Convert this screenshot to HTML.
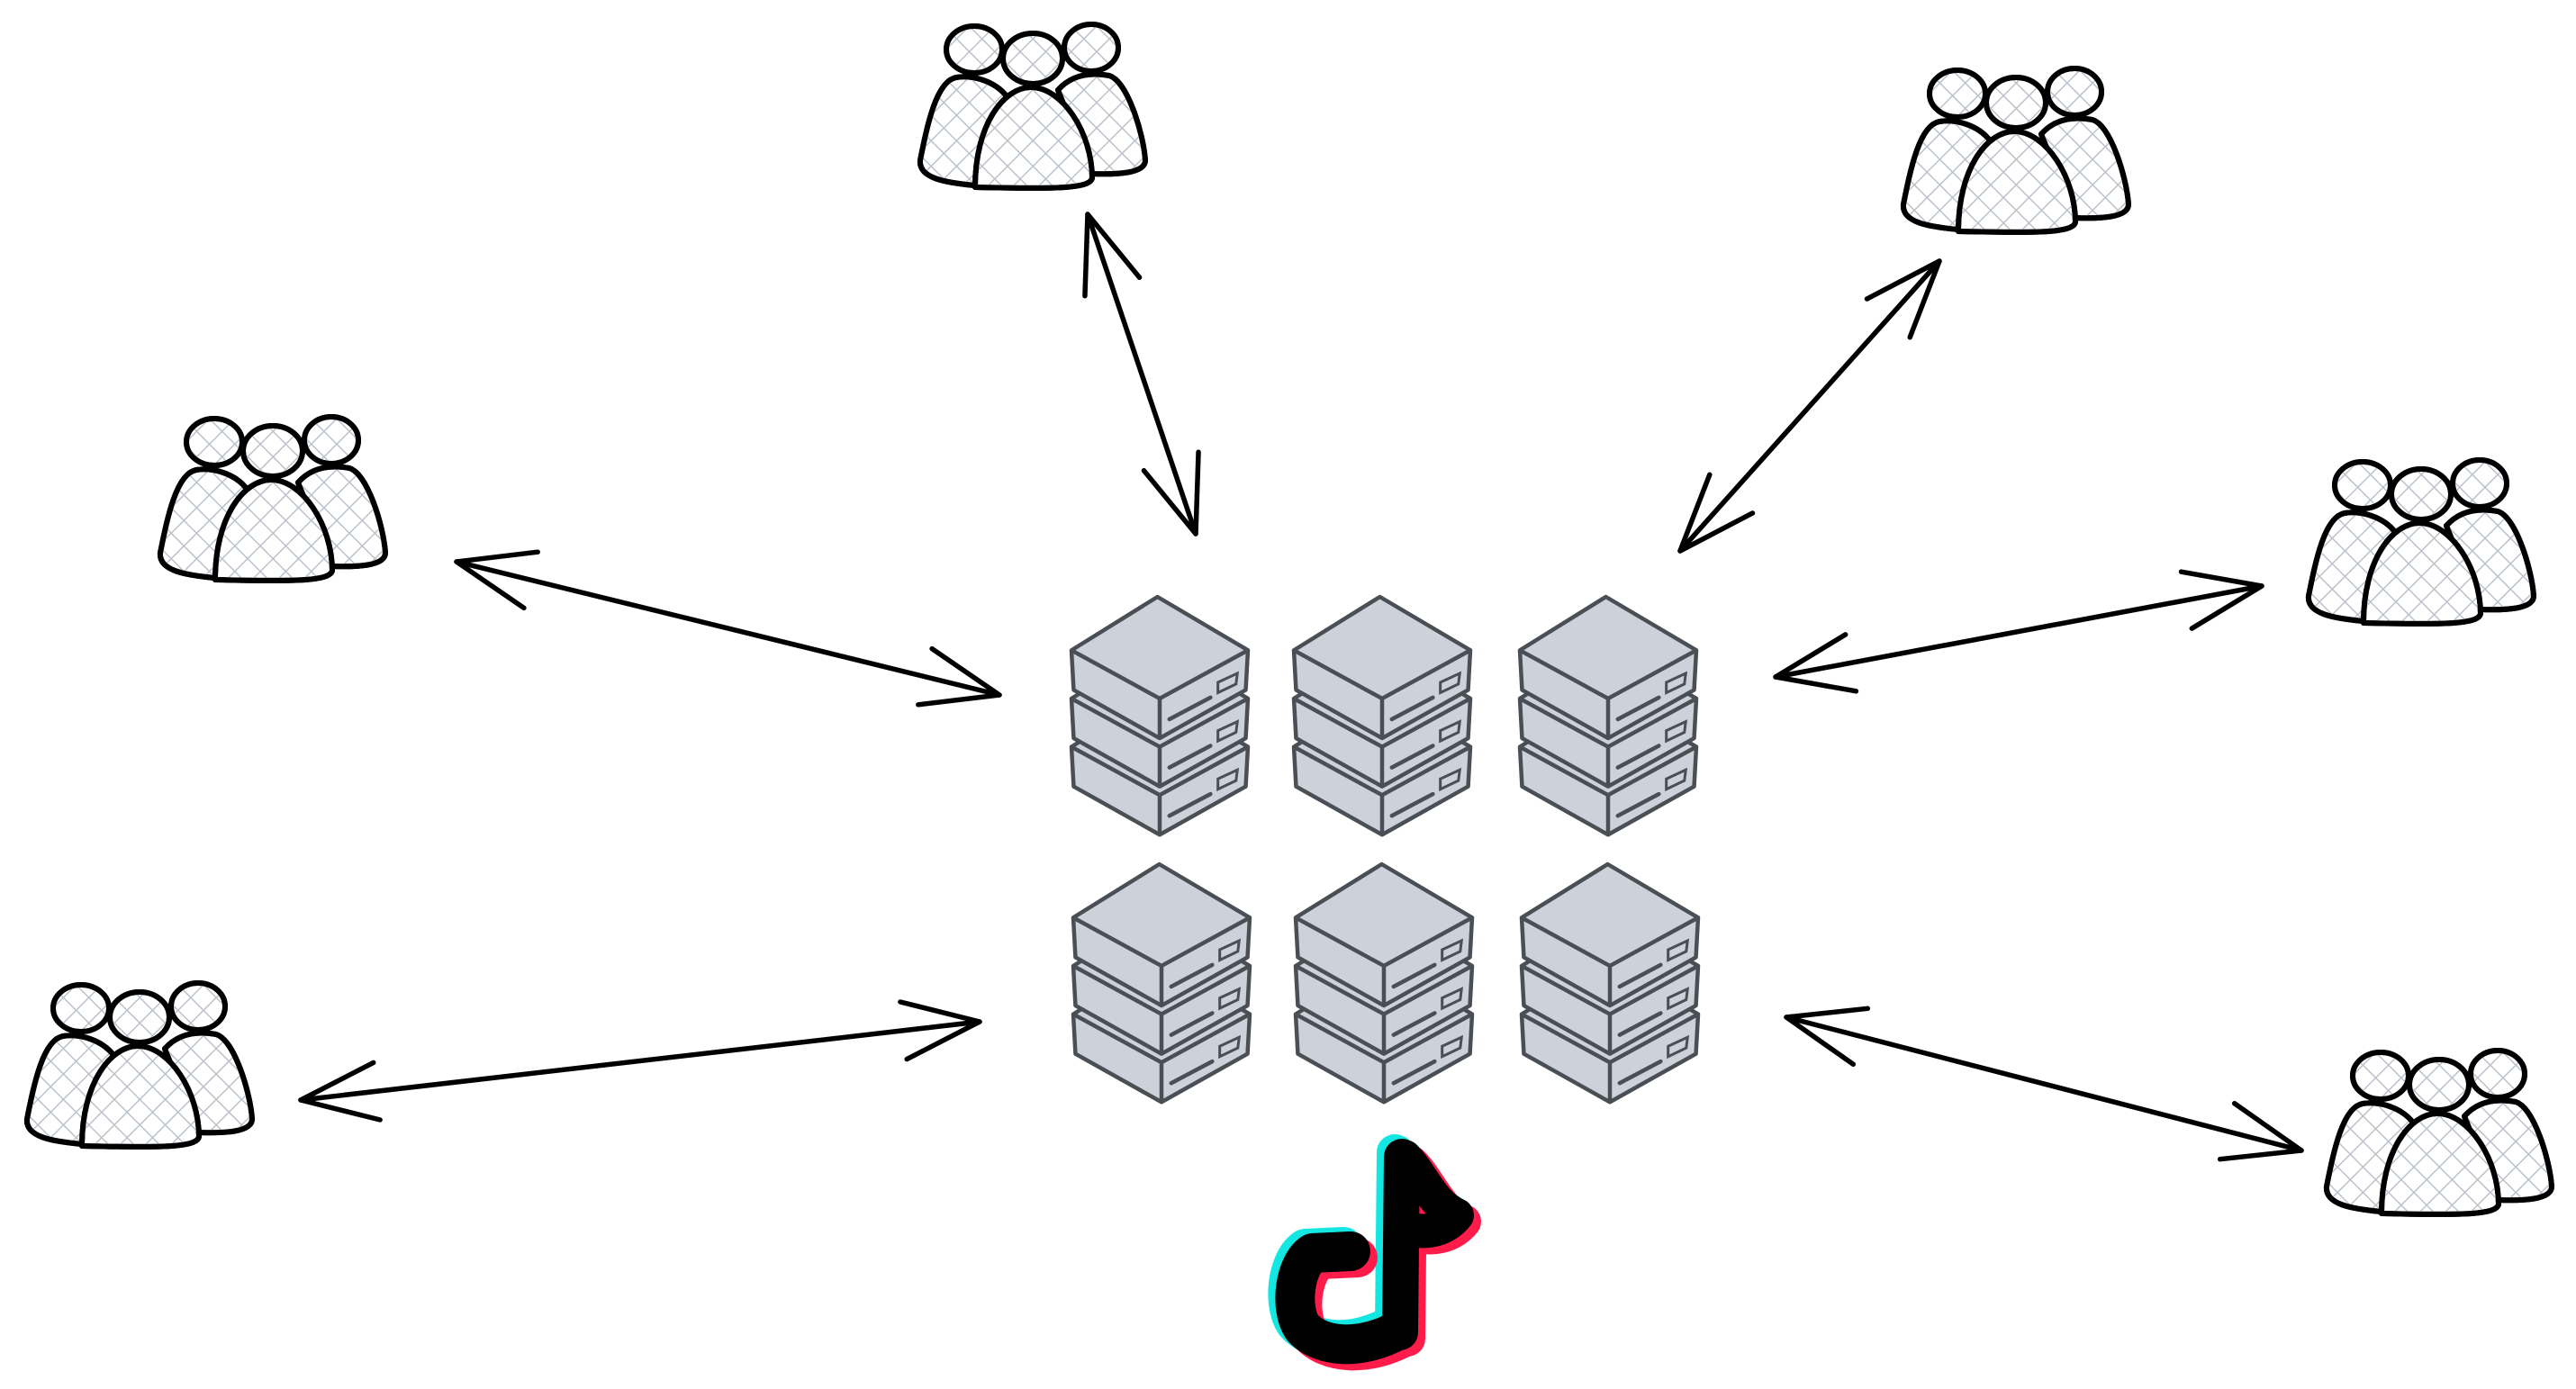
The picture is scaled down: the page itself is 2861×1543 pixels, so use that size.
<!DOCTYPE html>
<html><head><meta charset="utf-8"><style>html,body{margin:0;padding:0;background:#fff}svg{display:block}</style></head>
<body>
<svg width="2861" height="1543" viewBox="0 0 2861 1543" xmlns="http://www.w3.org/2000/svg">
<defs>
<pattern id="hatch" width="20" height="20" patternUnits="userSpaceOnUse" patternTransform="rotate(45)">
<line x1="0" y1="0" x2="0" y2="20" stroke="#bcc2cb" stroke-width="3"/>
<line x1="0" y1="0" x2="20" y2="0" stroke="#bcc2cb" stroke-width="3"/>
</pattern>
<g id="people" stroke="#000" stroke-width="6" stroke-linejoin="round" fill="url(#hatch)">
<path d="M98,79 C85,62 60,55 42,58 C20,62 10,110 2,150 C0,170 30,175 63,178 L98,79 Z" fill="#fff"/>
<path d="M98,79 C85,62 60,55 42,58 C20,62 10,110 2,150 C0,170 30,175 63,178 L98,79 Z"/>
<path d="M155,72 C170,55 190,52 212,56 C232,62 250,120 252,150 C252,165 220,166 192,165 L155,72 Z" fill="#fff"/>
<path d="M155,72 C170,55 190,52 212,56 C232,62 250,120 252,150 C252,165 220,166 192,165 L155,72 Z"/>
<ellipse cx="62" cy="27" rx="31" ry="26" fill="#fff"/><ellipse cx="62" cy="27" rx="31" ry="26"/>
<ellipse cx="192" cy="25" rx="30" ry="26" fill="#fff"/><ellipse cx="192" cy="25" rx="30" ry="26"/>
<ellipse cx="127" cy="37" rx="33" ry="28" fill="#fff"/><ellipse cx="127" cy="37" rx="33" ry="28"/>
<path d="M63,180 C63,110 95,69 125,69 C160,69 193,120 193,170 C190,182 150,182 63,180 Z" fill="#fff"/>
<path d="M63,180 C63,110 95,69 125,69 C160,69 193,120 193,170 C190,182 150,182 63,180 Z"/>
</g>
<g id="slab">
<polygon points="195,0 400,155 395,270 200,410 5,270 0,155" fill="#cdd1d9" stroke="#4a4f55" stroke-width="4.5" vector-effect="non-scaling-stroke" stroke-linejoin="round"/>
<polyline points="0,155 200,295 400,155" fill="none" stroke="#4a4f55" stroke-width="4.5" vector-effect="non-scaling-stroke"/>
<line x1="200" y1="295" x2="200" y2="410" stroke="#4a4f55" stroke-width="4.5" vector-effect="non-scaling-stroke"/>
<line x1="222" y1="355" x2="315" y2="292" stroke="#4a4f55" stroke-width="4.5" stroke-linecap="round" vector-effect="non-scaling-stroke"/>
<polygon points="332,248 376,222 373,253 332,278" fill="none" stroke="#4a4f55" stroke-width="3" vector-effect="non-scaling-stroke"/>
</g>
<g id="stack">
<use href="#slab" y="280"/><use href="#slab" y="140"/><use href="#slab" y="0"/>
</g>
<g id="ah"><polyline points="-85,-32 0,0 -85,32" fill="none" stroke="#000" stroke-width="5.5" stroke-linecap="round" stroke-linejoin="round"/></g>
</defs>

<g transform="translate(1190,663) scale(0.49,0.383)"><use href="#stack"/></g>
<g transform="translate(1437,663) scale(0.49,0.383)"><use href="#stack"/></g>
<g transform="translate(1688,663) scale(0.49,0.383)"><use href="#stack"/></g>
<g transform="translate(1192,960) scale(0.49,0.383)"><use href="#stack"/></g>
<g transform="translate(1439,960) scale(0.49,0.383)"><use href="#stack"/></g>
<g transform="translate(1690,960) scale(0.49,0.383)"><use href="#stack"/></g>

<use href="#people" x="1020" y="28"/>
<use href="#people" x="2112" y="77"/>
<use href="#people" x="176" y="464"/>
<use href="#people" x="2562" y="512"/>
<use href="#people" x="28" y="1093"/>
<use href="#people" x="2582" y="1168"/>

<g stroke="#000" stroke-width="5.5" stroke-linecap="round">
<line x1="1208" y1="238" x2="1328" y2="593"/>
<line x1="2154" y1="290" x2="1866" y2="612"/>
<line x1="507" y1="624" x2="1110" y2="772"/>
<line x1="2512" y1="651" x2="1972" y2="752"/>
<line x1="334" y1="1222" x2="1088" y2="1135"/>
<line x1="1984" y1="1130" x2="2556" y2="1278"/>
</g>
<use href="#ah" transform="translate(1208,238) rotate(251.3)"/>
<use href="#ah" transform="translate(1328,593) rotate(71.3)"/>
<use href="#ah" transform="translate(2154,290) rotate(-48.2)"/>
<use href="#ah" transform="translate(1866,612) rotate(131.8)"/>
<use href="#ah" transform="translate(507,624) rotate(193.8)"/>
<use href="#ah" transform="translate(1110,772) rotate(13.8)"/>
<use href="#ah" transform="translate(2512,651) rotate(-10.6)"/>
<use href="#ah" transform="translate(1972,752) rotate(169.4)"/>
<use href="#ah" transform="translate(334,1222) rotate(173.4)"/>
<use href="#ah" transform="translate(1088,1135) rotate(-6.6)"/>
<use href="#ah" transform="translate(1984,1130) rotate(194.5)"/>
<use href="#ah" transform="translate(2556,1278) rotate(14.5)"/>

<g fill="none" stroke-linecap="round" stroke-linejoin="round">
<g stroke="#14e6e2" transform="translate(-8,-5)">
<path d="M1557,1285 L1555,1480" stroke-width="40"/>
<path d="M1560,1285 C1580,1305 1590,1338 1618,1350 C1605,1366 1585,1370 1568,1366" stroke-width="38"/>
<path d="M1500,1390 L1458,1392 C1438,1405 1432,1452 1446,1474 C1466,1498 1512,1500 1552,1478" stroke-width="44"/>
</g>
<g stroke="#ff1c4a" transform="translate(8,7)">
<path d="M1557,1285 L1555,1480" stroke-width="40"/>
<path d="M1560,1285 C1580,1305 1590,1338 1618,1350 C1605,1366 1585,1370 1568,1366" stroke-width="38"/>
<path d="M1500,1390 L1458,1392 C1438,1405 1432,1452 1446,1474 C1466,1498 1512,1500 1552,1478" stroke-width="44"/>
</g>
<g stroke="#000">
<path d="M1557,1285 L1555,1480" stroke-width="40"/>
<path d="M1560,1285 C1580,1305 1590,1338 1618,1350 C1605,1366 1585,1370 1568,1366" stroke-width="38"/>
<path d="M1500,1390 L1458,1392 C1438,1405 1432,1452 1446,1474 C1466,1498 1512,1500 1552,1478" stroke-width="44"/>
</g>
</g>
</svg>
</body></html>
